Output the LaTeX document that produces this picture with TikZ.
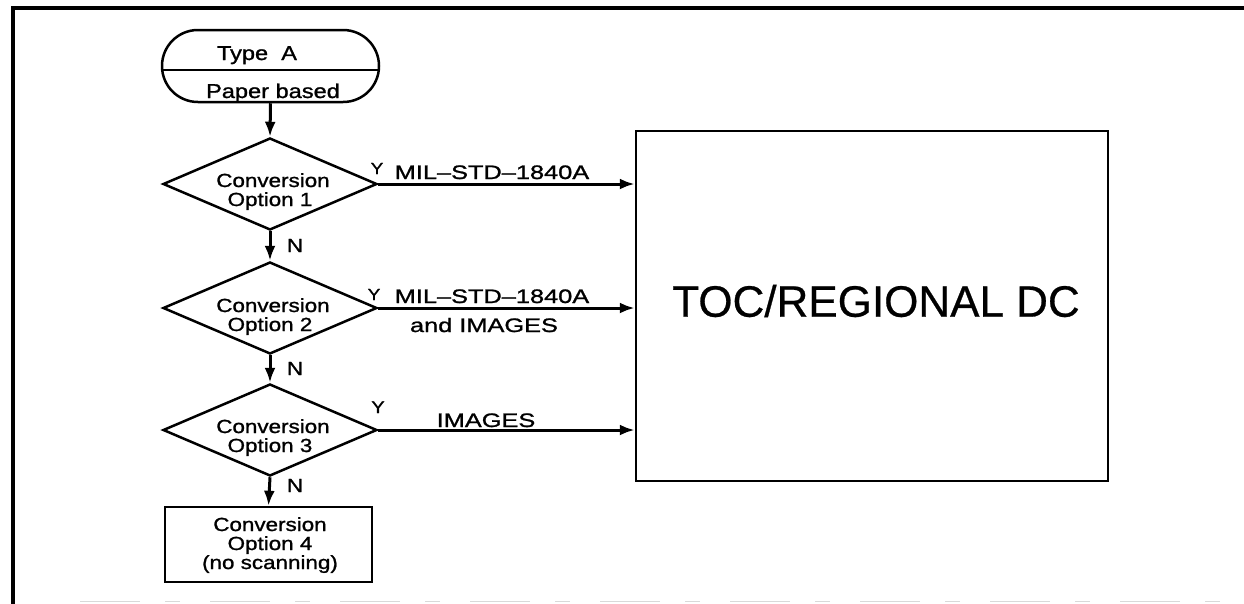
\documentclass[tikz,border=0pt]{standalone}
\usepackage{fontspec}
\setmainfont{Liberation Sans}
\newfontfamily\widef[FakeStretch=1.18,FakeBold=1.2]{Liberation Sans}
\newfontfamily\widerf[FakeStretch=1.3,FakeBold=1.2]{Liberation Sans}
\newfontfamily\bigf[FakeBold=0.6]{Liberation Sans}
\usetikzlibrary{shapes.geometric,arrows.meta,calc}
\begin{document}
\begin{tikzpicture}[x=1pt,y=-1pt,
  shp/.style={draw, line width=2.5pt, inner sep=0pt},
  dia/.style={shp, diamond, minimum width=214pt, minimum height=92pt},
  txt/.style={font=\widef\fontsize{19}{21}\selectfont, inner sep=0pt, anchor=base},
  ytxt/.style={font=\widef\fontsize{16}{18}\selectfont, inner sep=0pt, anchor=base},
  conn/.style={line width=3pt, -{Latex[length=15pt,width=11pt]}}]
\useasboundingbox (0,0) rectangle (1244,603);
% frame
\draw[line width=4.5pt] (1250,8) -- (13,8) -- (13,610);
\draw[black!15, line width=1pt, dash pattern=on 60pt off 25pt on 15pt off 30pt] (80,601) -- (1244,601);
% terminal
\node[shp, rectangle, rounded corners=35.9pt, minimum width=217pt, minimum height=72pt] (t) at (270.5,66) {};
\draw[line width=2.5pt] ($(t.west)+(0.4,4)$) -- ($(t.east)+(-0.4,4)$);
\node[txt, font=\widef\fontsize{20}{22}\selectfont] (ta) at (257,60) {Type\ \ A};
\node[txt, font=\widef\fontsize{20}{22}\selectfont] (tb) at (273,98) {Paper based};
% diamonds
\node[dia] (d1) at (270,184) {};
\node[dia] (d2) at (270,308) {};
\node[dia] (d3) at (270,430) {};
\node[txt] (d1a) at (273,187) {Conversion};
\node[txt] (d1b) at (270,206) {Option 1};
\node[txt] (d2a) at (273,312) {Conversion};
\node[txt] (d2b) at (270,331) {Option 2};
\node[txt] (d3a) at (273,433) {Conversion};
\node[txt] (d3b) at (270,452) {Option 3};
% option 4 box
\node[shp, rectangle, minimum width=207pt, minimum height=75pt] (o4) at (268.5,544.5) {};
\node[txt] (o4a) at (270,531) {Conversion};
\node[txt] (o4b) at (270,550) {Option 4};
\node[txt] (o4c) at (270,569) {(no scanning)};
% big box
\node[shp, rectangle, minimum width=472pt, minimum height=350pt] (dc) at (872,306) {};
\node[font=\bigf\fontsize{44}{48}\selectfont, inner sep=0pt] (dct) at (876,301) {TOC/REGIONAL DC};
% vertical connectors
\draw[conn] (t.south) -- (d1.north);
\draw[conn] (d1.south) -- (d2.north);
\draw[conn] (d2.south) -- (d3.north);
\draw[conn] (d3.south) -- (o4.north);
% horizontal connectors
\draw[conn] (d1.east) -- (d1.east -| dc.west);
\draw[conn] (d2.east) -- (d2.east -| dc.west);
\draw[conn] (d3.east) -- (d3.east -| dc.west);
% labels
\node[txt] (n1) at (295,252) {N};
\node[txt] (n2) at (295,375) {N};
\node[txt] (n3) at (295,492) {N};
\node[ytxt] (y1) at (377,174) {Y};
\node[ytxt] (y2) at (374,300) {Y};
\node[ytxt, font=\widef\fontsize{17}{19}\selectfont] (y3) at (378,413) {Y};
\node[txt, font=\widerf\fontsize{19.5}{21}\selectfont] (m1) at (492,179) {MIL–STD–1840A};
\node[txt, font=\widerf\fontsize{19.5}{21}\selectfont] (m2) at (492,303) {MIL–STD–1840A};
\node[txt, font=\widerf\fontsize{19.5}{21}\selectfont] (m2b) at (484,332) {and IMAGES};
\node[txt, font=\widerf\fontsize{19.5}{21}\selectfont] (m3) at (486,427) {IMAGES};
\end{tikzpicture}
\end{document}
